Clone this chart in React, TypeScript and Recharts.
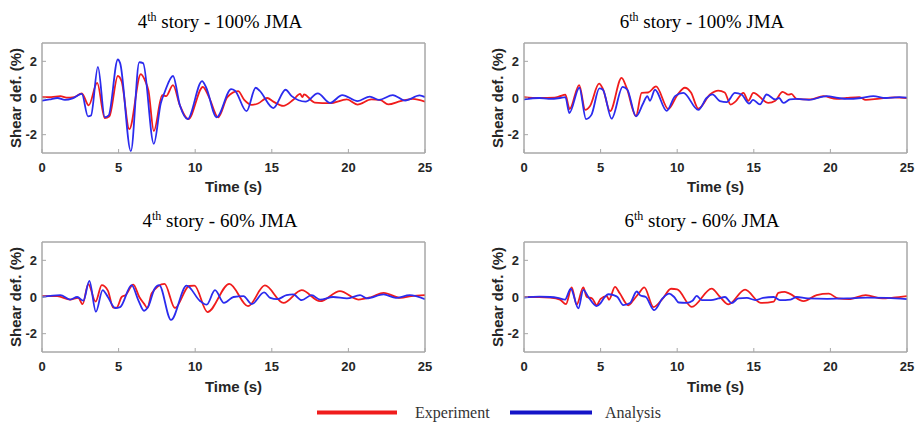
import React from 'react';
import { LineChart, Line, XAxis, YAxis, Label, ReferenceArea } from 'recharts';

// ---------- data ----------
const timeTicks = [0, 5, 10, 15, 20, 25];
const defTicks = [-2, 0, 2];
const seriesNames = ['Experiment', 'Analysis'];
const storyLabels = ['4', '6', '4', '6'];
const jmaLabels = ['100% JMA', '100% JMA', '60% JMA', '60% JMA'];

// [time (s), shear deformation (%)]
const story4Jma100Exp: [number, number][] = [
  [0, 0.05], [0.6, 0.05], [1.2, 0.1], [1.6, 0.02], [2.1, 0.05], [2.6, 0.25], [3.05, -0.4], [3.6, 0.82],
  [4.1, -1.1], [4.4, -1.0], [4.95, 1.2], [5.2, 0.9], [5.7, -1.7], [6.45, 1.3], [6.75, 0.9], [6.95, 0.4],
  [7.3, -1.8], [7.85, 0.15], [8.1, 0.1], [8.55, 0.7], [9.0, -0.4], [9.55, -1.15], [10.5, 0.6], [10.9, 0.05],
  [11.5, -1.05], [12.1, 0.05], [12.8, 0.37], [13.2, -0.1], [13.7, -0.37], [14.1, -0.3], [14.7, 0.0],
  [15.1, -0.2], [15.75, -0.43], [16.4, -0.1], [16.85, 0.22], [17.0, 0.05], [17.1, 0.2], [17.8, -0.25],
  [18.8, -0.28], [19.9, -0.08], [20.6, -0.36], [21.5, -0.08], [22.1, -0.12], [22.6, -0.35], [23.4, -0.17],
  [24.2, -0.05], [25, -0.2],
];
const story4Jma100Ana: [number, number][] = [
  [0, -0.15], [0.5, -0.08], [1.0, 0.0], [1.5, -0.1], [2.0, -0.02], [2.6, 0.22], [3.0, -1.0], [3.2, -0.95],
  [3.65, 1.7], [4.1, -1.05], [4.35, -0.95], [4.95, 2.1], [5.1, 1.9], [5.8, -2.9], [6.35, 1.95], [6.6, 1.9],
  [7.3, -2.5], [7.75, -0.3], [8.0, 0.3], [8.55, 1.2], [9.0, -0.4], [9.5, -1.15], [10.45, 0.92], [10.7, 0.6],
  [11.4, -1.05], [12.35, 0.48], [12.6, 0.4], [13.35, -0.72], [13.95, 0.56], [14.2, 0.4], [15.1, -0.55],
  [15.9, 0.45], [16.3, 0.1], [17.2, -0.2], [18.0, 0.25], [18.8, -0.27], [19.6, 0.16], [20.6, -0.17],
  [21.4, 0.08], [22.0, -0.1], [22.9, 0.16], [23.7, -0.14], [24.65, 0.14], [25, 0.05],
];
const story6Jma100Exp: [number, number][] = [
  [0, 0.05], [1.0, 0.0], [2.0, 0.02], [2.35, 0.1], [2.7, 0.18], [2.98, -0.6], [3.6, 0.7], [4.0, -0.65],
  [4.3, -0.45], [4.9, 0.78], [5.15, 0.5], [5.62, -0.72], [6.37, 1.1], [6.7, 0.55], [7.31, -0.98],
  [7.68, 0.28], [8.1, 0.3], [8.62, 0.63], [9.42, -0.6], [10.0, 0.15], [10.5, 0.56], [10.9, 0.3],
  [11.38, -0.58], [12.14, 0.19], [12.68, 0.4], [13.1, 0.3], [13.49, -0.36], [13.8, -0.2], [14.32, 0.28],
  [14.64, -0.15], [14.97, 0.28], [15.95, -0.27], [16.4, -0.15], [16.88, 0.33], [17.26, 0.18], [17.45, 0.22],
  [17.8, -0.05], [18.67, -0.08], [19.54, 0.1], [20.41, -0.05], [21.06, 0.0], [21.9, 0.05], [22.3, -0.1],
  [23.2, -0.03], [24.2, 0.03], [25, 0.0],
];
const story6Jma100Ana: [number, number][] = [
  [0, -0.08], [1.0, 0.0], [1.6, -0.05], [2.35, 0.0], [2.7, 0.05], [2.96, -0.82], [3.61, 0.56], [4.05, -1.15],
  [4.4, -0.92], [4.92, 0.52], [5.15, 0.45], [5.72, -1.13], [6.44, 0.61], [6.75, 0.45], [7.31, -1.0],
  [7.79, -0.27], [8.05, 0.1], [8.22, -0.15], [8.55, 0.45], [9.31, -0.7], [9.86, 0.1], [10.4, 0.28],
  [11.38, -0.65], [11.92, 0.0], [12.3, 0.2], [12.79, -0.17], [13.23, -0.22], [13.77, 0.28], [14.2, 0.19],
  [14.7, -0.3], [14.95, -0.1], [15.4, -0.35], [15.84, 0.19], [16.4, -0.08], [16.65, 0.0], [16.93, -0.27],
  [17.36, -0.08], [17.8, -0.05], [18.6, -0.1], [19.76, 0.1], [20.5, 0.0], [21.1, -0.05], [22.0, 0.0],
  [22.8, 0.1], [23.6, 0.0], [24.5, 0.05], [25, 0.02],
];
const story4Jma60Exp: [number, number][] = [
  [0, 0.05], [1.0, 0.05], [1.83, -0.14], [2.37, -0.05], [2.65, -0.39], [3.02, 0.7], [3.5, -0.25], [3.9, 0.65],
  [4.3, 0.35], [4.65, -0.58], [4.87, -0.58], [5.2, 0.0], [5.45, 0.1], [5.96, 0.68], [6.35, 0.0], [6.66, -0.36],
  [6.88, -0.6], [7.16, 0.2], [8.0, 0.72], [8.68, -0.6], [9.6, 0.6], [9.95, 0.62], [10.8, -0.82], [12.23, 0.72],
  [13.45, -0.5], [14.55, 0.63], [15.76, -0.32], [16.95, 0.37], [18.15, -0.23], [19.45, 0.32], [20.65, -0.14],
  [21.5, 0.0], [22.3, 0.23], [23.4, -0.05], [24.1, 0.05], [25, 0.1],
];
const story4Jma60Ana: [number, number][] = [
  [0, 0.0], [1.2, 0.1], [1.83, -0.14], [2.3, 0.0], [2.7, -0.2], [3.09, 0.88], [3.52, -0.8], [3.96, 0.38],
  [4.3, 0.0], [4.77, -0.6], [5.1, -0.55], [5.85, 0.65], [6.29, -0.18], [6.66, -0.75], [6.95, -0.5], [7.35, 0.45],
  [7.65, 0.65], [8.42, -1.25], [9.44, 0.62], [10.3, -0.2], [10.75, -0.42], [11.29, 0.37], [11.88, -0.32],
  [12.5, 0.0], [13.15, 0.05], [13.69, -0.39], [14.5, 0.25], [14.9, -0.05], [15.35, -0.12], [15.96, 0.1],
  [16.4, 0.14], [16.95, -0.17], [17.6, 0.1], [18.15, -0.14], [19.0, 0.0], [19.9, -0.08], [20.76, 0.1],
  [21.2, -0.08], [22.3, 0.14], [23.1, -0.05], [24.0, 0.1], [25, -0.12],
];
const story6Jma60Exp: [number, number][] = [
  [0, 0.0], [1.0, 0.0], [1.7, -0.03], [2.35, -0.14], [2.74, -0.39], [3.11, 0.52], [3.44, -0.42], [3.87, 0.52],
  [4.1, 0.0], [4.45, -0.08], [4.74, -0.44], [5.0, -0.1], [5.4, 0.05], [5.55, -0.15], [5.94, 0.55], [6.25, 0.2],
  [6.81, -0.45], [7.2, -0.1], [7.5, 0.2], [7.85, 0.52], [8.45, -0.55], [9.04, -0.1], [9.6, 0.45], [10.0, 0.42],
  [10.95, -0.54], [12.25, 0.46], [12.8, 0.0], [13.34, -0.4], [14.43, 0.4], [15.45, -0.32], [16.3, -0.25],
  [16.6, 0.22], [17.0, 0.28], [17.3, 0.2], [18.25, -0.23], [19.1, 0.1], [19.9, 0.18], [20.5, -0.08],
  [21.2, -0.12], [22.3, 0.1], [23.4, -0.08], [24.1, -0.03], [25, 0.05],
];
const story6Jma60Ana: [number, number][] = [
  [0, -0.03], [1.0, 0.02], [1.7, 0.0], [2.2, -0.05], [2.68, -0.14], [3.05, 0.45], [3.55, -0.62], [3.87, 0.39],
  [4.2, 0.0], [4.74, -0.5], [5.0, -0.33], [5.3, 0.03], [5.5, 0.15], [5.85, 0.1], [6.1, 0.0], [6.48, -0.44],
  [6.92, -0.33], [7.36, 0.3], [7.6, 0.08], [7.95, 0.0], [8.5, -0.72], [9.04, -0.08], [9.48, 0.18], [9.8, 0.0],
  [10.1, -0.3], [10.6, -0.32], [11.0, -0.2], [11.27, 0.06], [11.6, -0.17], [12.2, -0.17], [12.7, -0.08],
  [13.12, 0.0], [13.55, -0.33], [14.0, -0.08], [14.55, -0.05], [15.1, -0.17], [15.6, -0.05], [16.3, 0.0],
  [16.7, -0.17], [17.4, -0.14], [17.8, 0.0], [18.5, -0.08], [19.8, -0.1], [21.1, -0.08], [22.4, -0.03],
  [23.7, -0.05], [25, -0.12],
];

// ---------- styles ----------
const RED = '#f01c1c';
const BLUE = '#2b2bee';
const AXIS = '#a8a8a8';
const TXT = '#262626';
const SANS = "Arial, 'Liberation Sans', sans-serif";
const SERIF = "'Times New Roman', 'Liberation Serif', serif";

const toRows = (arr: [number, number][]) => arr.map(([t, v]) => ({ t, v }));

const YLabelContent = (props: any) => {
  const vb = props.viewBox || { x: 0, y: 0, width: 42, height: 110 };
  const cx = vb.x + 16;
  const cy = vb.y + vb.height / 2;
  return (
    <text
      x={cx}
      y={cy}
      dy="0.36em"
      transform={`rotate(-90 ${cx} ${cy})`}
      textAnchor="middle"
      fill={TXT}
      fontSize={15}
      fontWeight="bold"
      fontFamily={SANS}
    >
      Shear def. (%)
    </text>
  );
};

function Panel(props: { left: number; top: number; marginTop: number; exp: [number, number][]; ana: [number, number][] }) {
  const { left, top, marginTop, exp, ana } = props;
  const plotH = 110;
  const expRows = toRows(exp);
  const anaRows = toRows(ana);
  return (
    <div style={{ position: 'absolute', left, top }}>
      <LineChart width={460} height={200} margin={{ top: marginTop - 1, right: 34, bottom: 0, left: 0 }}>
        <XAxis
          xAxisId="b"
          dataKey="t"
          type="number"
          domain={[0, 25]}
          ticks={timeTicks}
          interval={0}
          allowDataOverflow
          height={200 - marginTop - plotH}
          tickSize={-4}
          tickMargin={14}
          stroke={AXIS}
          tick={{ fill: TXT, fontSize: 13, fontWeight: 'bold', fontFamily: SANS }}
        >
          <Label value="Time (s)" position="insideBottom" offset={8} fill={TXT} fontSize={15} fontWeight="bold" fontFamily={SANS} />
        </XAxis>
        <XAxis
          xAxisId="top"
          orientation="top"
          dataKey="t"
          type="number"
          domain={[0, 25]}
          ticks={timeTicks}
          interval={0}
          allowDataOverflow
          height={1}
          tickSize={-4}
          tick={false}
          stroke={AXIS}
        />
        <YAxis
          yAxisId="l"
          type="number"
          domain={[-3, 3]}
          ticks={defTicks}
          interval={0}
          allowDataOverflow
          width={42}
          tickSize={-4}
          tickMargin={9}
          stroke={AXIS}
          tick={{ fill: TXT, fontSize: 13, fontWeight: 'bold', fontFamily: SANS }}
        >
          <Label content={YLabelContent} />
        </YAxis>
        <YAxis
          yAxisId="r"
          orientation="right"
          type="number"
          domain={[-3, 3]}
          ticks={defTicks}
          interval={0}
          allowDataOverflow
          width={1}
          tickSize={-4}
          tick={false}
          stroke={AXIS}
        />
        <ReferenceArea
          xAxisId="b"
          yAxisId="l"
          x1={0}
          x2={25}
          y1={-3}
          y2={3}
          fill="none"
          fillOpacity={0}
          stroke={AXIS}
          strokeWidth={1}
          ifOverflow="visible"
        />
        <Line
          xAxisId="top"
          yAxisId="r"
          data={expRows}
          dataKey="v"
          stroke="none"
          dot={false}
          activeDot={false}
          legendType="none"
          isAnimationActive={false}
        />
        <Line
          xAxisId="b"
          yAxisId="l"
          data={expRows}
          dataKey="v"
          name={seriesNames[0]}
          type="monotone"
          stroke={RED}
          strokeWidth={1.8}
          dot={false}
          isAnimationActive={false}
        />
        <Line
          xAxisId="b"
          yAxisId="l"
          data={anaRows}
          dataKey="v"
          name={seriesNames[1]}
          type="monotone"
          stroke={BLUE}
          strokeWidth={1.8}
          dot={false}
          isAnimationActive={false}
        />
      </LineChart>
    </div>
  );
}

const Title = ({ x, y, idx }: { x: number; y: number; idx: number }) => (
  <text x={x} y={y} textAnchor="middle" fontFamily={SERIF} fontSize={19} fill="#000">
    {storyLabels[idx]}
    <tspan dy={-7} fontSize={12}>th</tspan>
    <tspan dy={7}>{` story - ${jmaLabels[idx]}`}</tspan>
  </text>
);

export default function App() {
  return (
    <div style={{ position: 'absolute', left: 0, top: 0, width: 921, height: 422, background: '#fff', overflow: 'hidden' }}>
      <Panel left={0} top={0} marginTop={43} exp={story4Jma100Exp} ana={story4Jma100Ana} />
      <Panel left={482} top={0} marginTop={43} exp={story6Jma100Exp} ana={story6Jma100Ana} />
      <Panel left={0} top={200} marginTop={42} exp={story4Jma60Exp} ana={story4Jma60Ana} />
      <Panel left={482} top={200} marginTop={42} exp={story6Jma60Exp} ana={story6Jma60Ana} />
      <svg width={921} height={422} style={{ position: 'absolute', left: 0, top: 0, pointerEvents: 'none' }}>
        <Title x={220} y={28} idx={0} />
        <Title x={702} y={28} idx={1} />
        <Title x={220} y={227} idx={2} />
        <Title x={702} y={227} idx={3} />
        <line x1={317} x2={397} y1={412.5} y2={412.5} stroke={RED} strokeWidth={4} />
        <text x={415} y={418} fontFamily={SERIF} fontSize={16} fill="#333">{seriesNames[0]}</text>
        <line x1={510} x2={592} y1={412.5} y2={412.5} stroke="#1414c8" strokeWidth={4} />
        <text x={605} y={418} fontFamily={SERIF} fontSize={16} fill="#333">{seriesNames[1]}</text>
      </svg>
    </div>
  );
}
